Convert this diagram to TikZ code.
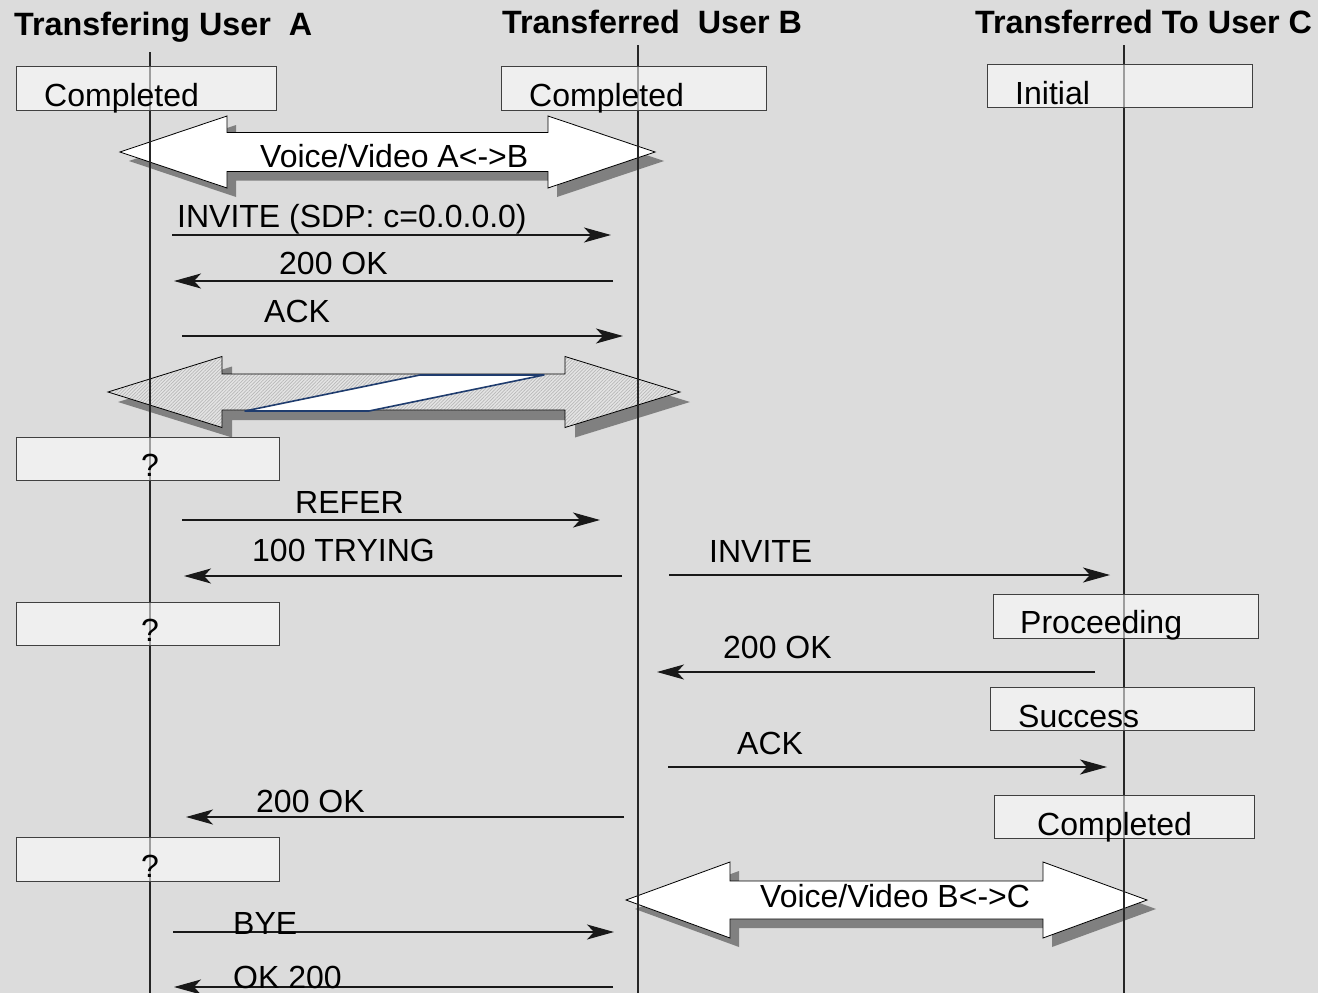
\documentclass[tikz,border=0pt]{standalone}
\usepackage{fontspec}
\setmainfont{Liberation Sans}
\usetikzlibrary{arrows.meta,patterns.meta}

\definecolor{bgcol}{HTML}{DCDCDC}
\definecolor{shadowcol}{HTML}{808080}
\definecolor{graybody}{HTML}{E4E4E4}
\definecolor{navyline}{HTML}{1F3C6E}

% outline of a horizontal double arrow:
% #1 left tip x, #2 right tip x, #3 left head back x, #4 right head back x,
% #5 centre y, #6 half height of the heads, #7 half height of the shaft
\newcommand\dblarrowpath[7]{%
  (#1,#5) -- (#3,#5-#6) -- (#3,#5-#7) -- (#4,#5-#7) -- (#4,#5-#6) -- (#2,#5)
  -- (#4,#5+#6) -- (#4,#5+#7) -- (#3,#5+#7) -- (#3,#5+#6) -- cycle}

\begin{document}
\begin{tikzpicture}[x=1pt,y=-1pt,
  lbl/.style={anchor=base west, inner sep=0pt, font=\fontsize{32pt}{38pt}\selectfont},
  head/.style={lbl, font=\fontsize{32.3pt}{38pt}\selectfont\bfseries},
  statebox/.style={draw=black!75, line width=1pt, fill=white, fill opacity=0.55,
                   rectangle, inner sep=0pt},
  lifeline/.style={draw=black!85, line width=1.2pt},
  msg/.style={draw=black!90, line width=1.1pt,
              -{Stealth[length=27pt,width=15pt,inset=7pt]}},
  bigshadow/.style={fill=shadowcol},
  bigarrow/.style={draw=black, line width=0.8pt}]

% canvas
\fill[bgcol] (0,0) rectangle (1318,993);
\useasboundingbox (0,0) rectangle (1318,993);

% media stream A<->B
\fill[bigshadow, shift={(9,9)}] \dblarrowpath{120}{655}{227}{548}{152}{36}{19.5};
\draw[bigarrow, fill=white] \dblarrowpath{120}{655}{227}{548}{152}{36}{19.5};

% held stream A<->B (hatched, with the break in the middle)
\fill[bigshadow, shift={(10,10)}] \dblarrowpath{108}{680}{222}{565}{392}{35.5}{18};
\fill[graybody] \dblarrowpath{108}{680}{222}{565}{392}{35.5}{18};
\fill[pattern={Lines[angle=45,distance=2.4pt,line width=0.7pt]}, pattern color=black!28]
  \dblarrowpath{108}{680}{222}{565}{392}{35.5}{18};
\draw[bigarrow] \dblarrowpath{108}{680}{222}{565}{392}{35.5}{18};
\draw[draw=navyline, line width=1.6pt, fill=white, line join=round]
  (245,411) -- (420,375) -- (544,375) -- (369,411) -- cycle;

% media stream B<->C
\fill[bigshadow, shift={(9,9)}] \dblarrowpath{626}{1147}{730}{1043}{900}{38}{19};
\draw[bigarrow, fill=white] \dblarrowpath{626}{1147}{730}{1043}{900}{38}{19};

% lifelines
\coordinate (Atop) at (150,52);   \coordinate (Abot) at (150,993);
\coordinate (Btop) at (638,45);   \coordinate (Bbot) at (638,993);
\coordinate (Ctop) at (1124,45);  \coordinate (Cbot) at (1124,993);
\draw[lifeline] (Atop) -- (Abot);
\draw[lifeline] (Btop) -- (Bbot);
\draw[lifeline] (Ctop) -- (Cbot);

% headings
\node[head] (hA) at (14,35) {Transfering User\ \ A};
\node[head] (hB) at (502,34) {Transferred\ \ User B};
\node[head] (hC) at (975,34) {Transferred To User C};

% state boxes
\node[statebox, minimum width=260, minimum height=44] (sA1) at (146,88) {};
\node[statebox, minimum width=265, minimum height=44] (sB1) at (633.5,88) {};
\node[statebox, minimum width=265, minimum height=43] (sC1) at (1119.5,85.5) {};
\node[statebox, minimum width=263, minimum height=43] (sA2) at (147.5,458.5) {};
\node[statebox, minimum width=263, minimum height=43] (sA3) at (147.5,623.5) {};
\node[statebox, minimum width=265, minimum height=44] (sC2) at (1125.5,616) {};
\node[statebox, minimum width=264, minimum height=43] (sC3) at (1122,708.5) {};
\node[statebox, minimum width=260, minimum height=43] (sC4) at (1124,816.5) {};
\node[statebox, minimum width=263, minimum height=44] (sA4) at (147.5,859) {};

\node[lbl] (tA1) at (44,106) {Completed};
\node[lbl] (tB1) at (529,106) {Completed};
\node[lbl] (tC1) at (1015,104) {Initial};
\node[lbl, anchor=base] (tA2) at (150,476) {?};
\node[lbl, anchor=base] (tA3) at (150,641) {?};
\node[lbl] (tC2) at (1020,633) {Proceeding};
\node[lbl] (tC3) at (1018,727) {Success};
\node[lbl] (tC4) at (1037,835) {Completed};
\node[lbl, anchor=base] (tA4) at (150,877) {?};

% media labels
\node[lbl] (vAB) at (260,167) {Voice/Video A<->B};
\node[lbl] (vBC) at (760,907) {Voice/Video B<->C};

% message end points
\coordinate (m1s) at (172,235);  \coordinate (m1e) at (611,235);
\coordinate (m2s) at (613,281);  \coordinate (m2e) at (174,281);
\coordinate (m3s) at (182,336);  \coordinate (m3e) at (623,336);
\coordinate (m4s) at (182,520);  \coordinate (m4e) at (600,520);
\coordinate (m5s) at (622,576);  \coordinate (m5e) at (184,576);
\coordinate (m6s) at (669,575);  \coordinate (m6e) at (1110,575);
\coordinate (m7s) at (1095,672); \coordinate (m7e) at (657,672);
\coordinate (m8s) at (668,767);  \coordinate (m8e) at (1107,767);
\coordinate (m9s) at (624,817);  \coordinate (m9e) at (186,817);
\coordinate (m10s) at (173,932); \coordinate (m10e) at (614,932);
\coordinate (m11s) at (613,987); \coordinate (m11e) at (174,987);

% messages
\draw[msg] (m1s) -- (m1e);
\draw[msg] (m2s) -- (m2e);
\draw[msg] (m3s) -- (m3e);
\draw[msg] (m4s) -- (m4e);
\draw[msg] (m5s) -- (m5e);
\draw[msg] (m6s) -- (m6e);
\draw[msg] (m7s) -- (m7e);
\draw[msg] (m8s) -- (m8e);
\draw[msg] (m9s) -- (m9e);
\draw[msg] (m10s) -- (m10e);
\draw[msg] (m11s) -- (m11e);

% message labels
\node[lbl] (l1) at (177,227) {INVITE (SDP: c=0.0.0.0)};
\node[lbl] (l2) at (279,274) {200 OK};
\node[lbl] (l3) at (264,322) {ACK};
\node[lbl] (l4) at (295,513) {REFER};
\node[lbl] (l5) at (252,561) {100 TRYING};
\node[lbl] (l6) at (709,562) {INVITE};
\node[lbl] (l7) at (723,658) {200 OK};
\node[lbl] (l8) at (737,754) {ACK};
\node[lbl] (l9) at (256,812) {200 OK};
\node[lbl] (l10) at (233,934) {BYE};
\node[lbl] (l11) at (233,988) {OK 200};
\end{tikzpicture}
\end{document}
